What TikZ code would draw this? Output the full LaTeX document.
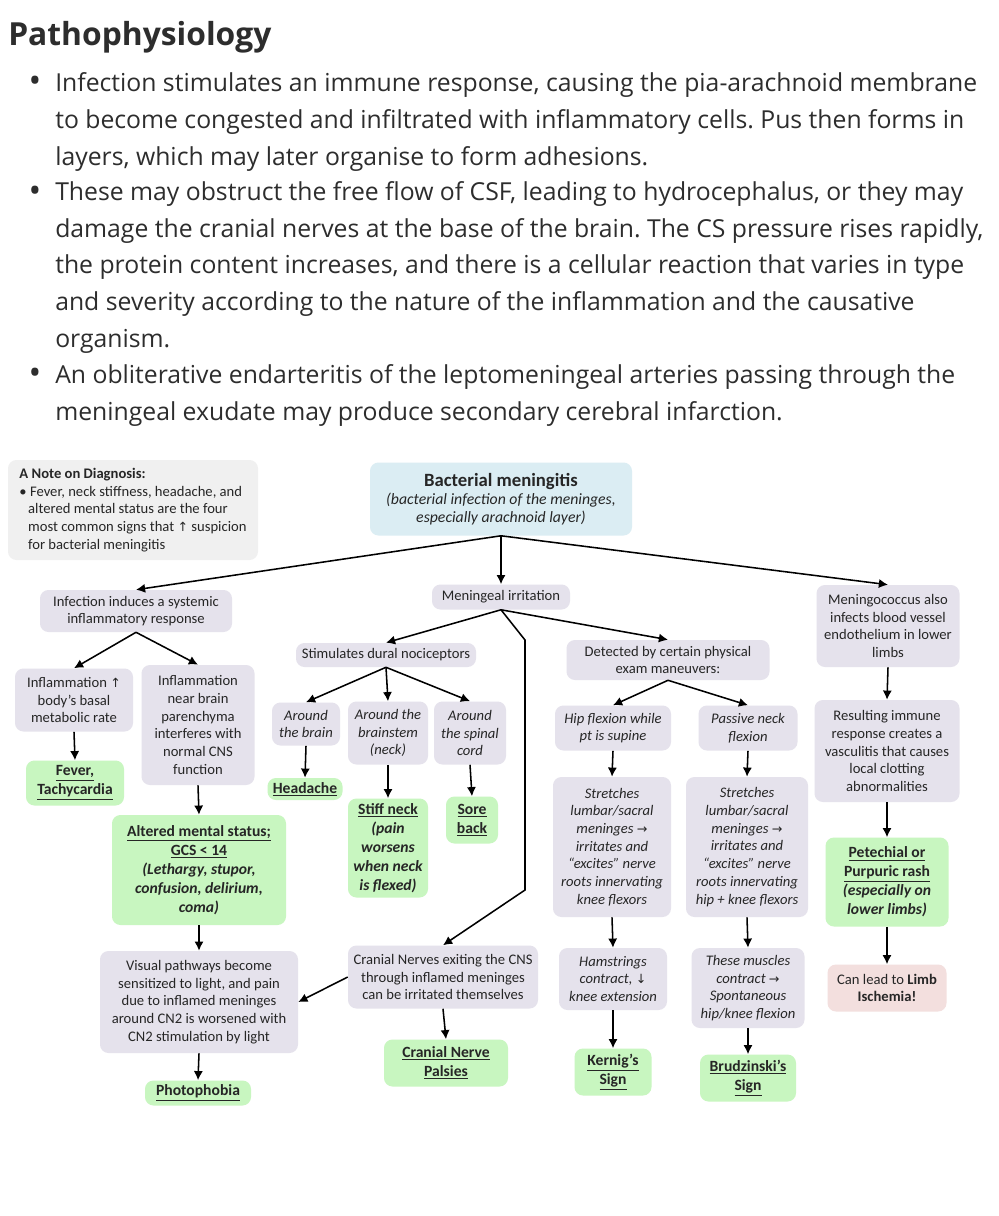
\documentclass[tikz,border=0pt]{standalone}
\usepackage{fontspec}
\setmainfont{Open Sans}
\newfontfamily\boxfont{Carlito}
\newfontfamily\arrowfont{DejaVu Sans}
\newcommand{\upa}{{\arrowfont\fontsize{9}{10}\selectfont ↑}}
\newcommand{\dna}{{\arrowfont\fontsize{9}{10}\selectfont ↓}}
\newcommand{\rta}{{\arrowfont\fontsize{9}{10}\selectfont →}}
\usetikzlibrary{positioning, arrows.meta}
\frenchspacing

\definecolor{lavbox}{RGB}{229,226,236}
\definecolor{notebox}{RGB}{240,240,240}
\definecolor{bluebox}{RGB}{219,237,243}
\definecolor{greenbox}{RGB}{200,246,192}
\definecolor{pinkbox}{RGB}{243,223,222}
\definecolor{inktext}{RGB}{38,38,38}
\definecolor{bodytext}{RGB}{45,45,45}

\tikzset{
  sz/.style 2 args={minimum width=#1*0.025cm, minimum height=#2*0.025cm},
  body/.style={inner sep=0pt, text=bodytext, font=\fontsize{17.6}{26}\selectfont},
  dotmark/.style={inner sep=0pt, text=bodytext, font=\fontsize{24}{26}\selectfont},
  card/.style={rounded corners=6pt, inner sep=0pt, align=center, text=inktext, font=\boxfont\fontsize{10.4}{12.6}\selectfont},
  lavcard/.style={card, fill=lavbox},
  lavital/.style={lavcard, font=\boxfont\fontsize{10.4}{12.6}\selectfont\itshape},
  signcard/.style={card, fill=greenbox, font=\boxfont\fontsize{11.1}{13.5}\selectfont\bfseries},
  link/.style={-{Latex[length=6.5pt,width=6.5pt]}, line width=1.1pt},
}

\begin{document}
\begin{tikzpicture}[x=0.025cm, y=-0.025cm]
	\useasboundingbox[fill=white] (0,0) rectangle (999,1216);
	% Text above the chart:
	\node[anchor=base west, inner sep=0pt, text=bodytext, font=\fontsize{22.6}{26}\selectfont\bfseries] (title) at (8,46) {Pathophysiology};
	\node[dotmark, anchor=base] (dot1) at (35,93) {\textbullet};
	\node[body, anchor=base west, align=left] (para1) at (55,165) {Infection stimulates an immune response, causing the pia-arachnoid membrane\\to become congested and infiltrated with inflammatory cells. Pus then forms in\\layers, which may later organise to form adhesions.};
	\node[dotmark, anchor=base] (dot2) at (35,202) {\textbullet};
	\node[body, anchor=base west, align=left] (para2) at (55,347) {These may obstruct the free flow of CSF, leading to hydrocephalus, or they may\\damage the cranial nerves at the base of the brain. The CS pressure rises rapidly,\\the protein content increases, and there is a cellular reaction that varies in type\\and severity according to the nature of the inflammation and the causative\\organism.};
	\node[dotmark, anchor=base] (dot3) at (35,384) {\textbullet};
	\node[body, anchor=base west, align=left] (para3) at (55,420) {An obliterative endarteritis of the leptomeningeal arteries passing through the\\meningeal exudate may produce secondary cerebral infarction.};

	% Boxes of the chart:
	\node[card, fill=notebox, align=left, sz={250}{100}] (note) at (133,510) {{\bfseries A Note on Diagnosis:}\\\textbullet\ Fever, neck stiffness, headache, and\\\hspace*{0.6em}altered mental status are the four\\\hspace*{0.6em}most common signs that \upa\ suspicion\\\hspace*{0.6em}for bacterial meningitis};
	\node[card, fill=bluebox, sz={262}{73}] (bm) at (501,499) {{\fontsize{13.3}{15}\selectfont\bfseries Bacterial meningitis}\\{\fontsize{11.2}{13.5}\selectfont\itshape (bacterial infection of the meninges,}\\{\fontsize{11.2}{13.5}\selectfont\itshape especially arachnoid layer)}};
	\node[lavcard, sz={192}{42}] (inf) at (136,611) {Infection induces a systemic\\inflammatory response};
	\node[lavcard, sz={138}{25}] (mi) at (501,597) {Meningeal irritation};
	\node[lavcard, sz={143}{82}] (mgc) at (888,626) {Meningococcus also\\infects blood vessel\\endothelium in lower\\limbs};
	\node[lavcard, sz={180}{24}] (stim) at (386,655) {Stimulates dural nociceptors};
	\node[lavcard, sz={203}{40}] (det) at (668,660) {Detected by certain physical\\exam maneuvers:};
	\node[lavcard, sz={118}{63}] (met) at (74,700) {Inflammation \upa\\body’s basal\\metabolic rate};
	\node[lavcard, sz={113}{120}] (near) at (198,725) {Inflammation\\near brain\\parenchyma\\interferes with\\normal CNS\\function};
	\node[lavital, sz={68}{43}] (brain) at (306,724) {Around\\the brain};
	\node[lavital, sz={80}{63}] (stem) at (388,733) {Around the\\brainstem\\(neck)};
	\node[lavital, sz={72}{63}] (spine) at (470,733) {Around\\the spinal\\cord};
	\node[lavital, sz={116}{45}] (hip) at (613,728) {Hip flexion while\\pt is supine};
	\node[lavital, sz={99}{45}] (pneck) at (748,728) {Passive neck\\flexion};
	\node[lavcard, sz={145}{102}] (immune) at (887,751) {Resulting immune\\response creates a\\vasculitis that causes\\local clotting\\abnormalities};
	\node[signcard, sz={98}{45}] (fever) at (75,783) {\underline{Fever,}\\\underline{Tachycardia}};
	\node[signcard, sz={75}{22}] (head) at (305,789) {\underline{Headache}};
	\node[signcard, sz={80}{99}] (stiff) at (388,848) {\underline{Stiff neck}\\{\itshape (pain}\\{\itshape worsens}\\{\itshape when neck}\\{\itshape is flexed)}};
	\node[signcard, sz={52}{47}] (sore) at (472,820) {\underline{Sore}\\\underline{back}};
	\node[signcard, sz={174}{110}] (ams) at (199,870) {\underline{Altered mental status;}\\\underline{GCS < 14}\\{\itshape (Lethargy, stupor,}\\{\itshape confusion, delirium,}\\{\itshape coma)}};
	\node[lavital, sz={118}{140}] (strl) at (612,847) {Stretches\\lumbar/sacral\\meninges \rta\\irritates and\\“excites” nerve\\roots innervating\\knee flexors};
	\node[lavital, sz={122}{140}] (strr) at (747,847) {Stretches\\lumbar/sacral\\meninges \rta\\irritates and\\“excites” nerve\\roots innervating\\hip + knee flexors};
	\node[signcard, sz={123}{89}] (pet) at (887,882) {\underline{Petechial or}\\\underline{Purpuric rash}\\{\itshape (especially on}\\{\itshape lower limbs)}};
	\node[lavcard, sz={198}{102}] (vis) at (199,1002) {Visual pathways become\\sensitized to light, and pain\\due to inflamed meninges\\around CN2 is worsened with\\CN2 stimulation by light};
	\node[lavcard, sz={190}{63}] (cn) at (443,977) {Cranial Nerves exiting the CNS\\through inflamed meninges\\can be irritated themselves};
	\node[lavital, sz={108}{62}] (ham) at (613,979) {Hamstrings\\contract, \dna\\knee extension};
	\node[lavital, sz={113}{80}] (mus) at (748,988) {These muscles\\contract \rta\\Spontaneous\\hip/knee flexion};
	\node[card, fill=pinkbox, sz={119}{47}] (limb) at (887,988) {Can lead to \textbf{Limb}\\\textbf{Ischemia!}};
	\node[signcard, sz={106}{25}] (photo) at (198,1093) {\underline{Photophobia}};
	\node[signcard, sz={124}{47}] (cnp) at (446,1063) {\underline{Cranial Nerve}\\\underline{Palsies}};
	\node[signcard, sz={77}{47}] (kern) at (613,1072) {\underline{Kernig’s}\\\underline{Sign}};
	\node[signcard, sz={96}{47}] (brud) at (748,1078) {\underline{Brudzinski’s}\\\underline{Sign}};
	\coordinate (bendA) at (525,640);
	\coordinate (bendB) at (525,890);

	% Connectors:
	\draw[link] (bm.south) -- (mi.north);
	\draw[link] (bm.south) -- (inf.north);
	\draw[link] (bm.south) -- (mgc.north);
	\draw[link] (inf.south) -- (met.north);
	\draw[link] (inf.south) -- (near.north);
	\draw[link] (mi.south) -- (stim.north);
	\draw[link] (mi.south) -- (det.north);
	\draw[link] (mi.south) -- (bendA) -- (bendB) -- (cn.north);
	\draw[link] (mgc.south) -- (immune.north);
	\draw[link] (stim.south) -- (brain.north);
	\draw[link] (stim.south) -- (stem.north);
	\draw[link] (stim.south) -- (spine.north);
	\draw[link] (det.south) -- (hip.north);
	\draw[link] (det.south) -- (pneck.north);
	\draw[link] (met.south) -- (fever.north);
	\draw[link] (near.south) -- (ams.north);
	\draw[link] (brain.south) -- (head.north);
	\draw[link] (stem.south) -- (stiff.north);
	\draw[link] (spine.south) -- (sore.north);
	\draw[link] (hip.south) -- (strl.north);
	\draw[link] (pneck.south) -- (strr.north);
	\draw[link] (immune.south) -- (pet.north);
	\draw[link] (ams.south) -- (vis.north);
	\draw[link] (strl.south) -- (ham.north);
	\draw[link] (strr.south) -- (mus.north);
	\draw[link] (pet.south) -- (limb.north);
	\draw[link] (cn.west) -- (vis.east);
	\draw[link] (vis.south) -- (photo.north);
	\draw[link] (cn.south) -- (cnp.north);
	\draw[link] (ham.south) -- (kern.north);
	\draw[link] (mus.south) -- (brud.north);
\end{tikzpicture}
\end{document}
